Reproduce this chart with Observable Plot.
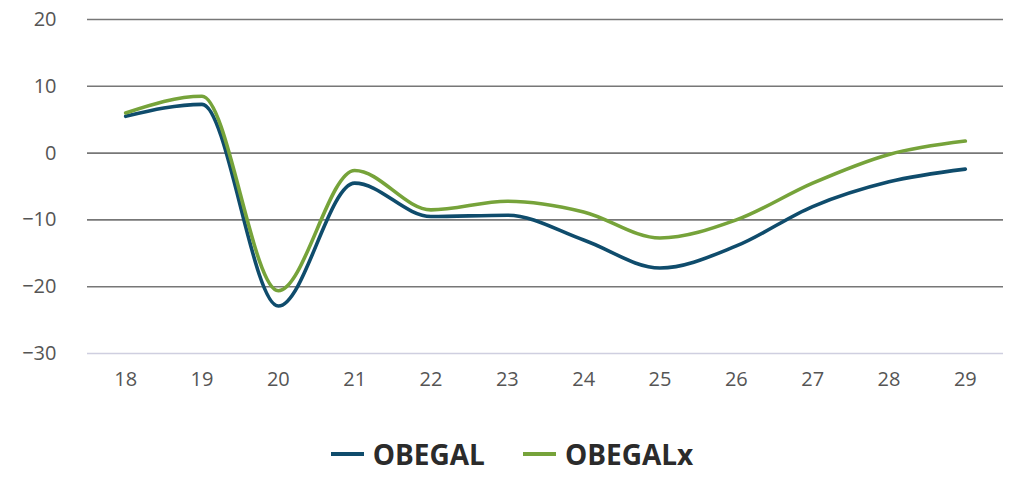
<!DOCTYPE html>
<html>
<head>
<meta charset="utf-8">
<script src="https://cdn.jsdelivr.net/npm/d3@7"></script>
<script src="https://cdn.jsdelivr.net/npm/@observablehq/plot@0.6"></script>
<style>
  html, body { margin: 0; padding: 0; background: #fff; }
  #chart { width: 1024px; }
  .legend { display: flex; justify-content: center; align-items: center; height: 80px; margin-top: 4px; font-family: "Open Sans", sans-serif; font-weight: 700; font-size: 28px; color: #2b2b2b; }
  .item { display: flex; align-items: center; margin: 0 19px; }
  .sw { width: 33px; height: 4px; margin-right: 9px; }
</style>
</head>
<body>
<div id="chart"></div>
<script>
const years = [18, 19, 20, 21, 22, 23, 24, 25, 26, 27, 28, 29];
const obegal = [5.5, 7.3, -22.9, -4.5, -9.5, -9.3, -13.0, -17.2, -13.9, -8.0, -4.3, -2.4];
const obegalx = [6.0, 8.5, -20.6, -2.6, -8.5, -7.2, -8.8, -12.7, -10.0, -4.5, -0.2, 1.8];
const seriesNames = ["OBEGAL", "OBEGALx"];
const colors = ["#0f4c6c", "#76a33a"];
const yTicks = [20, 10, 0, -10, -20, -30];

const data = [];
years.forEach((y, i) => {
  data.push({year: y, value: obegal[i], series: seriesNames[0]});
  data.push({year: y, value: obegalx[i], series: seriesNames[1]});
});

const chart = Plot.plot({
  width: 1024,
  height: 410,
  marginLeft: 87,
  marginRight: 21,
  marginTop: 19,
  marginBottom: 57,
  style: {fontFamily: "'Open Sans', sans-serif", fontSize: "20px", color: "#555"},
  x: {domain: [17.5, 29.5], label: null},
  y: {domain: [-30, 20], label: null},
  color: {domain: seriesNames, range: colors},
  marks: [
    Plot.ruleY(yTicks.filter(d => d !== -30), {stroke: "#777", strokeWidth: 1.6}),
    Plot.ruleY([-30], {stroke: "#cfcfe0", strokeWidth: 1.6}),
    Plot.axisX({ticks: years, tickFormat: d => String(d), tickSize: 0, tickPadding: 18, fill: "#555", fontSize: 20}),
    Plot.axisY({ticks: yTicks, tickSize: 0, tickPadding: 31, fill: "#555", fontSize: 20}),
    Plot.line(data, {x: "year", y: "value", z: "series", stroke: "series", strokeWidth: 3.6, curve: "monotone-x"})
  ]
});
document.getElementById("chart").appendChild(chart);

const legend = document.createElement("div");
legend.className = "legend";
seriesNames.forEach((n, i) => {
  const item = document.createElement("div");
  item.className = "item";
  const sw = document.createElement("span");
  sw.className = "sw";
  sw.style.background = colors[i];
  const t = document.createElement("span");
  t.textContent = n;
  item.appendChild(sw);
  item.appendChild(t);
  legend.appendChild(item);
});
document.getElementById("chart").appendChild(legend);
</script>
</body>
</html>
